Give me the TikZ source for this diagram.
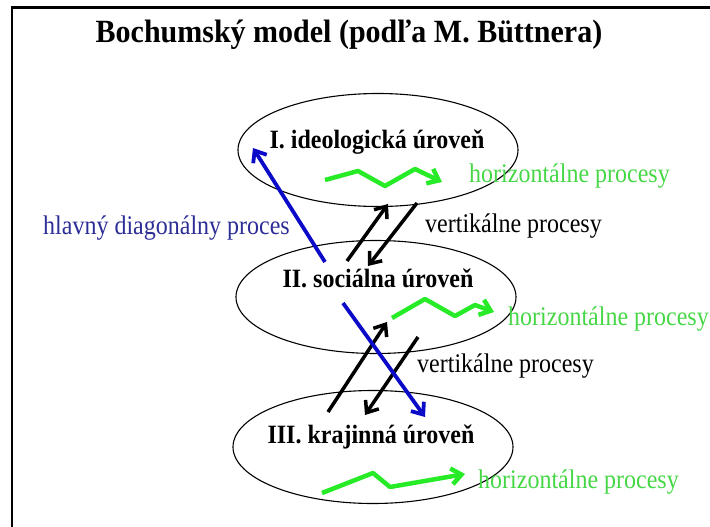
\documentclass[tikz,border=0pt]{standalone}
\usepackage{fontspec}
\setmainfont{Liberation Serif}
\usetikzlibrary{shapes.geometric,arrows.meta}
\definecolor{wavegreen}{RGB}{40,235,40}
\definecolor{labelgreen}{RGB}{70,215,70}
\definecolor{diagblue}{RGB}{10,10,200}
\definecolor{labelblue}{RGB}{45,45,150}
\tikzset{
  level/.style={draw, ellipse, line width=1.1pt, minimum width=280pt, minimum height=113pt, inner sep=0pt},
  leveltext/.style={font=\fontsize{24}{24}\selectfont\bfseries, anchor=base, inner sep=0pt, yscale=1.1, transform shape},
  proclabel/.style={font=\fontsize{24}{24}\selectfont, anchor=base west, inner sep=0pt, yscale=1.12, transform shape},
  horiz/.style={wavegreen, line width=4.5pt, line join=round},
  vert/.style={black, line width=3.5pt},
  diag/.style={diagblue, line width=3.8pt}
}

\begin{document}
\begin{tikzpicture}[x=1pt, y=-1pt,
    >={Straight Barb[length=10pt,width=16pt]}]
        \useasboundingbox (0,0) rectangle (710,527);
        \draw[line width=2.5pt] (12,527) -- (12,7.5) -- (710,7.5);

        \node[font=\fontsize{30}{30}\selectfont\bfseries, anchor=base, inner sep=0pt, yscale=1.08, transform shape] (title) at (349,43) {Bochumský model (podľa M. Büttnera)};

        \node[level] (lvlI) at (378,150) {};
        \node[level] (lvlII) at (376,297) {};
        \node[level] (lvlIII) at (373,447) {};
        \node[leveltext] (txtI) at (377,148) {I. ideologická úroveň};
        \node[leveltext] (txtII) at (378,287) {II. sociálna úroveň};
        \node[leveltext] (txtIII) at (371,443) {III. krajinná úroveň};

        \coordinate (hIs) at (325,180);   \coordinate (hIe) at (442,182);
        \coordinate (hIIs) at (392,318);  \coordinate (hIIe) at (494,312);
        \coordinate (hIIIs) at (322,493); \coordinate (hIIIe) at (465,474);
        \draw[horiz, ->] (hIs) -- (358,171) -- (385,186) -- (415,169) -- (hIe);
        \draw[horiz, ->] (hIIs) -- (425,299) -- (455,316) -- (475,305) -- (hIIe);
        \draw[horiz, ->] (hIIIs) -- (373,473) -- (390,487) -- (hIIIe);

        \coordinate (upIs) at (347,261);  \coordinate (upIe) at (388,204);
        \coordinate (dnIs) at (417,203);  \coordinate (dnIe) at (368,266);
        \coordinate (upIIs) at (328,412); \coordinate (upIIe) at (387,322);
        \coordinate (dnIIs) at (418,337); \coordinate (dnIIe) at (365,415);
        \draw[vert, ->] (upIs) -- (upIe);
        \draw[vert, ->] (dnIs) -- (dnIe);
        \draw[vert, ->] (upIIs) -- (upIIe);
        \draw[vert, ->] (dnIIs) -- (dnIIe);

        \coordinate (dgIs) at (325,262);  \coordinate (dgIe) at (253,148);
        \coordinate (dgIIs) at (343,303); \coordinate (dgIIe) at (425,417);
        \draw[diag, ->] (dgIs) -- (dgIe);
        \draw[diag, ->] (dgIIs) -- (dgIIe);

        \node[proclabel, labelblue] (diagproc) at (43,234) {hlavný diagonálny proces};
        \node[proclabel] (vertI) at (425,232) {vertikálne procesy};
        \node[proclabel] (vertII) at (417,372) {vertikálne procesy};
        \node[proclabel, labelgreen] (horI) at (469,182) {horizontálne procesy};
        \node[proclabel, labelgreen] (horII) at (508,325) {horizontálne procesy};
        \node[proclabel, labelgreen] (horIII) at (478,488) {horizontálne procesy};
    \end{tikzpicture}
\end{document}
